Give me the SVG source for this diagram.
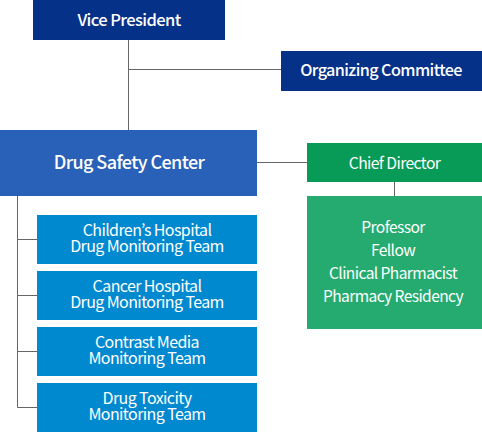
<svg xmlns="http://www.w3.org/2000/svg" width="482" height="432" viewBox="0 0 482 432">
<style>
text{font-family:"Noto Sans CJK KR","Noto Sans",sans-serif;fill:#fff;text-anchor:middle;letter-spacing:-0.6px;font-weight:400}
.m{font-weight:500}
.t{font-size:16px}
.s{font-size:15.6px}
.line{stroke:#666;stroke-width:1;fill:none}
</style>
<rect width="482" height="432" fill="#fff"/>
<g id="connectors">
<path class="line" d="M128.5 40V130M128.5 69.5H281M257 162.5H307M394.5 182V196M17.5 196V407.5M17.5 239.5H37M17.5 295.5H37M17.5 351.5H37M17.5 407.5H37"/>
</g>
<g id="vice-president">
<rect x="33" y="0" width="192" height="40" fill="#063189"/>
<text class="m" x="129" y="26" font-size="16.5">Vice President</text>
</g>
<g id="organizing-committee">
<rect x="281" y="51" width="201" height="40" fill="#063189"/>
<text class="m" x="381" y="76" font-size="16.2">Organizing Committee</text>
</g>
<g id="drug-safety-center">
<rect x="0" y="130" width="257" height="66" fill="#2961b8"/>
<text class="m" x="129" y="169" font-size="18">Drug Safety Center</text>
</g>
<g id="chief-director">
<rect x="307" y="143" width="175" height="39" fill="#089a57"/>
<text x="394.5" y="168.5" font-size="15.7">Chief Director</text>
</g>
<g id="staff">
<rect x="307" y="196" width="175" height="133" fill="#25ab6f"/>
<text class="s" x="393" y="233">Professor</text>
<text class="s" x="393" y="256">Fellow</text>
<text class="s" x="393" y="279">Clinical Pharmacist</text>
<text class="s" x="393" y="302">Pharmacy Residency</text>
</g>
<g id="team-children">
<rect x="37" y="215" width="220" height="49" fill="#0189d0"/>
<text class="t" x="147" y="236">Children’s Hospital</text>
<text class="t" x="147" y="252">Drug Monitoring Team</text>
</g>
<g id="team-cancer">
<rect x="37" y="271" width="220" height="49" fill="#0189d0"/>
<text class="t" x="147" y="292">Cancer Hospital</text>
<text class="t" x="147" y="308">Drug Monitoring Team</text>
</g>
<g id="team-contrast">
<rect x="37" y="327" width="220" height="49" fill="#0189d0"/>
<text class="t" x="147" y="348">Contrast Media</text>
<text class="t" x="147" y="364">Monitoring Team</text>
</g>
<g id="team-toxicity">
<rect x="37" y="383" width="220" height="49" fill="#0189d0"/>
<text class="t" x="147" y="404">Drug Toxicity</text>
<text class="t" x="147" y="420">Monitoring Team</text>
</g>
</svg>
